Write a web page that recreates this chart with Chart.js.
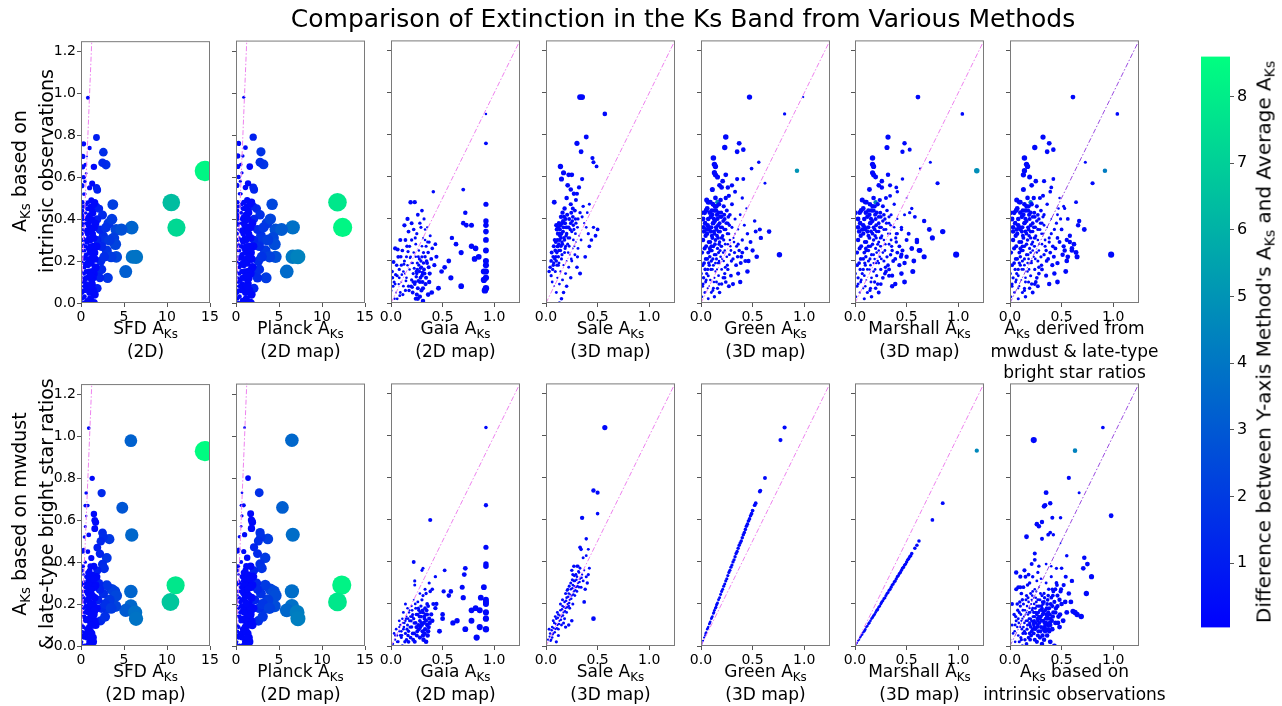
<!DOCTYPE html>
<html>
<head>
<meta charset="utf-8">
<script src="https://cdn.jsdelivr.net/npm/chart.js@4.4.0/dist/chart.umd.min.js"></script>
<style>
  body { margin: 0; background: #fff; font-family: "DejaVu Sans", sans-serif; }
  #fig { position: relative; width: 1282px; height: 706px; overflow: hidden; background: #fff; }
  #fig canvas { position: absolute; }
  .title { position: absolute; white-space: nowrap; font-size: 25px; transform: translate(-50%, -50%); }
  .xlab { position: absolute; white-space: nowrap; text-align: center; font-size: 17px; line-height: 21px; transform: translateX(-50%); }
  .ylab { position: absolute; white-space: nowrap; text-align: center; font-size: 19px; line-height: 25px; transform: translate(-50%, -50%) rotate(-90deg); }
  .bar { font-size: 20px; }
  .s { font-size: 0.7em; position: relative; top: 0.3em; }
</style>
</head>
<body>
<div id="fig"></div>
<script>
// axis ticks
const yTicks = [0, 0.2, 0.4, 0.6, 0.8, 1.0, 1.2];
const wideTicks = [0, 5, 10, 15];
const narrowTicks = [0, 0.5, 1.0];
const barTicks = [1, 2, 3, 4, 5, 6, 7, 8];
const barMin = 0.036, barMax = 8.6;

// points are [x, y] or [x, y, colour value]; colour value defaults to a plain blue
// --- top row: y = A_Ks from intrinsic observations
const sfdVsIntrinsic = [
  [14.4,.63,8.3],[10.5,.48,6.4],[11.1,.36,7.3],[5.9,.36,3.4],[6.0,.22,3.8],[6.4,.22,3.9],[5.2,.15,3.2],[3.7,.47,2.1],
  [4.1,.35,2.4],[4.7,.35,2.7],[3.8,.31,2.1],[4.0,.28,2.3],[4.1,.22,2.4],[3.1,.12,1.8],[2.6,.72,1.5],[2.9,.66,1.6],
  [2.5,.67,1.4],[1.8,.79,1.0],[1.8,.55,1.0],[1.9,.54,1.1],[3.2,.38,1.8],[3.0,.25,1.7],[2.6,.32,1.5],[2.3,.20,1.3],
  [2.1,.45,1.2],[2.5,.42,1.4],[2.8,.30,1.6],[3.3,.30,1.9],[3.5,.22,2.0],[2.7,.22,1.5],[2.2,.35,1.2],[2.4,.27,1.3],
  [2.0,.15,1.1],[1.9,.40,1.0],[1.8,.46,1.0],[1.9,.30,1.1],[2.2,.12,1.2],[1.9,.07,1.0],[2.4,.16,1.3],[3.6,.40,2.0],[2.9,.36,1.6],
  [.8,.98],[.3,.76],[1.0,.74],[.7,.70],[1.5,.65],[.2,.65],[1.3,.57],[.6,.62],[.3,.60],[1.0,.55],[.5,.52],[1.6,.48],
  [1.2,.49],[.8,.48],[.4,.46],[1.4,.43],[1.0,.42],[.6,.40],[.2,.40],[1.7,.38],[1.3,.36],[.9,.35],[.5,.34],[.1,.33],
  [1.5,.31],[1.1,.30],[.7,.29],[.3,.28],[1.8,.27],[1.4,.25],[1.0,.24],[.6,.23],[.2,.22],[1.6,.21],[1.2,.19],[.8,.18],
  [.4,.17],[.1,.15],[1.5,.14],[1.0,.13],[.6,.12],[.3,.10],[1.3,.09],[.9,.07],[.5,.06],[.2,.05],[1.6,.04],[1.1,.02],
  [.7,.01],[.3,.00],[1.5,.00],[.1,.08],[.4,.25],[.9,.45],[1.3,.44],[.7,.38],[1.1,.34],[.5,.27],[1.2,.26],[.8,.21],
  [.3,.19],[1.7,.17],[1.4,.12],[.6,.15],[.2,.12],[1.0,.05],[.4,.03],[.15,.30],[.25,.35],[.55,.43],[.15,.48],[.35,.52],
  [.1,.56],[.45,.58],[.2,.70],[.5,.66],[.05,.20],[.05,.10],[.1,.42],[.35,.14],
  [.12,.44],[.22,.37],[.35,.31],[.48,.22],[.62,.47],[.75,.33],[.88,.26],[.95,.15],[1.05,.39],[1.15,.21],[1.25,.11],
  [1.35,.33],[1.45,.27],[1.55,.36],[.18,.27],[.28,.06],[.42,.38],[.52,.18],[.66,.09],[.78,.41],[.92,.31],[1.02,.19],
  [1.12,.46],[1.22,.36],[1.32,.15],[1.42,.06],[1.58,.24],[.08,.38],[.16,.02],[.26,.46],[.38,.21],[.46,.11],[.58,.30],
  [.68,.19],[.82,.12],[.96,.40],[1.08,.27],[1.18,.08],[1.28,.40],[1.38,.22],[1.48,.47],[.32,.41],[.72,.45],[.86,.37],
  [.12,.25],[.04,.30],[.06,.04],[.44,.08],[.64,.35],[1.16,.13]
];
const planckVsIntrinsic = [
  [11.8,.48,7.8],[12.4,.36,8.3],[6.6,.36,3.8],[6.6,.22,4.1],[7.2,.22,4.4],[5.9,.15,3.6],[4.2,.47,2.4],[4.6,.35,2.7],
  [5.3,.35,3.1],[4.3,.31,2.4],[4.5,.28,2.6],[4.6,.22,2.7],[3.5,.12,2.0],[2.9,.72,1.7],[3.2,.66,1.8],[2.8,.67,1.6],
  [2.0,.79,1.1],[2.0,.55,1.1],[2.1,.54,1.2],[3.6,.38,2.0],[3.4,.25,1.9],[2.9,.32,1.7],[2.6,.20,1.5],[2.4,.45,1.3],
  [2.8,.42,1.6],[3.1,.30,1.8],[3.7,.30,2.1],[3.9,.22,2.2],[3.0,.22,1.7],[2.5,.35,1.4],[2.7,.27,1.5],[2.2,.15,1.2],
  [2.1,.40,1.2],[2.0,.46,1.1],[2.1,.30,1.2],[2.5,.12,1.4],[2.1,.07,1.2],[2.7,.16,1.5],[4.0,.40,2.3],[3.2,.36,1.8],
  [.9,.98],[.3,.76],[1.1,.74],[.8,.70],[1.6,.65],[.2,.65],[1.4,.57],[.7,.62],[.3,.60],[1.1,.55],[.6,.52],[1.8,.48],
  [1.3,.49],[.9,.48],[.4,.46],[1.5,.43],[1.1,.42],[.7,.40],[.2,.40],[1.9,.38],[1.4,.36],[1.0,.35],[.6,.34],[.1,.33],
  [1.7,.31],[1.2,.30],[.8,.29],[.3,.28],[2.0,.27],[1.5,.25],[1.1,.24],[.7,.23],[.2,.22],[1.8,.21],[1.3,.19],[.9,.18],
  [.4,.17],[.1,.15],[1.7,.14],[1.1,.13],[.7,.12],[.3,.10],[1.4,.09],[1.0,.07],[.6,.06],[.2,.05],[1.8,.04],[1.2,.02],
  [.8,.01],[.3,.00],[1.7,.00],[.1,.08],[.4,.25],[1.0,.45],[1.4,.44],[.8,.38],[1.2,.34],[.6,.27],[1.3,.26],[.9,.21],
  [.3,.19],[1.9,.17],[1.5,.12],[.7,.15],[.2,.12],[1.1,.05],[.4,.03],[.15,.30],[.3,.35],[.6,.43],[.15,.48],[.4,.52],
  [.1,.56],[.5,.58],[.2,.70],[.55,.66],[.05,.20],[.05,.10],[.1,.42],[.4,.14],
  [.13,.44],[.24,.37],[.38,.31],[.53,.22],[.68,.47],[.82,.33],[.97,.26],[1.05,.15],[1.15,.39],[1.27,.21],[1.37,.11],
  [1.48,.33],[1.6,.27],[1.7,.36],[.2,.27],[.31,.06],[.46,.38],[.57,.18],[.73,.09],[.86,.41],[1.01,.31],[1.12,.19],
  [1.23,.46],[1.34,.36],[1.45,.15],[1.56,.06],[1.74,.24],[.09,.38],[.18,.02],[.29,.46],[.42,.21],[.51,.11],[.64,.30],
  [.75,.19],[.9,.12],[1.06,.40],[1.19,.27],[1.3,.08],[1.41,.40],[1.52,.22],[1.63,.47],[.35,.41],[.79,.45],[.95,.37],
  [.13,.25],[.04,.30],[.07,.04],[.48,.08],[.7,.35],[1.28,.13]
];
const gaiaVsIntrinsic = [
  [.92,.90],[.92,.76],[.70,.54],[.41,.53],[.92,.47],[.92,.39],[.92,.37],[.92,.34],[.92,.30],[.92,.25],[.92,.20],
  [.92,.18],[.92,.15],[.92,.12],[.92,.07],[.91,.06],[.90,.15],[.90,.11],[.72,.43],[.70,.38],[.73,.37],[.78,.37],
  [.59,.31],[.63,.28],[.68,.24],[.78,.27],[.82,.26],[.85,.22],[.81,.21],[.56,.20],[.52,.17],[.49,.15],[.58,.12],
  [.68,.08],[.46,.07],[.36,.04],[.31,.01],[.28,.03],[.25,.04],[.24,.02],[.19,.48],[.23,.48],[.30,.44],[.13,.37],[.04,.26],
  [.05,.05],[.02,.08],[.08,.12],[.10,.18],[.12,.15],[.15,.22],[.18,.27],[.20,.30],[.22,.35],[.25,.33],[.28,.38],
  [.32,.40],[.35,.36],[.38,.32],[.33,.30],[.30,.27],[.27,.25],[.24,.22],[.21,.19],[.18,.16],[.15,.12],[.12,.08],
  [.09,.05],[.06,.02],[.03,.10],[.01,.15],[.00,.06],[.11,.25],[.14,.30],[.17,.34],[.20,.38],[.26,.42],[.29,.36],
  [.31,.31],[.34,.27],[.36,.24],[.39,.21],[.42,.18],[.44,.22],[.40,.26],[.37,.29],[.35,.19],[.32,.16],[.30,.13],
  [.28,.10],[.26,.07],[.23,.09],[.20,.11],[.25,.14],[.27,.18],[.33,.22],[.29,.20],[.24,.28],[.22,.24],[.19,.22],
  [.16,.18],[.13,.20],[.08,.16],[.06,.13],[.04,.09],[.10,.10],[.14,.06],[.17,.08],[.21,.05],[.34,.12],[.37,.10],
  [.31,.07],[.26,.02],[.43,.28],[.16,.40],[.09,.30],[.07,.22],[.33,.35],[.30,.22],
  [.015,.12],[.035,.02],[.055,.18],[.075,.09],[.095,.22],[.115,.04],[.135,.14],[.155,.27],[.175,.06],[.195,.19],
  [.215,.10],[.235,.31],[.255,.16],[.275,.21],[.295,.06],[.315,.19],[.335,.09],[.355,.29],[.375,.14],[.395,.05],
  [.245,.125],[.265,.105],[.285,.165],[.305,.145],[.225,.165],[.205,.075],[.185,.215],[.165,.245],[.145,.105],
  [.125,.185],[.105,.135],[.085,.035],[.065,.255],[.045,.135],[.025,.195],
  [.255,.19],[.275,.15],[.295,.17],[.245,.15],[.265,.22],[.285,.12],[.305,.10],[.325,.14],[.235,.10],[.215,.14],
  [.195,.08],[.315,.24],[.345,.20],[.365,.17]
];
const saleVsIntrinsic = [
  [.33,.98],[.35,.98],[.57,.90],[.39,.79],[.30,.76],[.34,.72],[.45,.69],[.46,.67],[.49,.65],[.14,.65],[.17,.62],
  [.22,.61],[.25,.61],[.35,.59],[.15,.59],[.24,.54],[.08,.48],[.30,.52],[.29,.49],[.16,.43],[.26,.45],[.36,.46],
  [.42,.47],[.40,.43],[.12,.36],[.10,.37],[.50,.35],[.42,.27],[.38,.22],[.30,.17],[.10,.05],[.13,.00],
  [.05,.13],[.03,.15],[.07,.18],[.10,.20],[.12,.22],[.14,.25],[.16,.28],[.18,.30],[.20,.33],[.22,.36],[.24,.38],
  [.26,.41],[.28,.44],[.19,.40],[.17,.36],[.15,.33],[.13,.30],[.11,.27],[.09,.25],[.07,.22],[.05,.20],[.04,.17],
  [.06,.10],[.08,.08],[.11,.12],[.14,.15],[.17,.18],[.20,.20],[.23,.23],[.26,.26],[.29,.29],[.32,.32],[.34,.30],
  [.31,.26],[.28,.23],[.25,.20],[.22,.17],[.19,.14],[.16,.11],[.13,.09],[.21,.28],[.23,.31],[.25,.34],[.27,.35],
  [.29,.38],[.31,.40],[.33,.43],[.35,.41],[.37,.38],[.39,.36],[.41,.33],[.44,.30],[.46,.36],[.48,.32],[.18,.24],
  [.15,.21],[.12,.18],[.09,.15],[.13,.33],[.11,.30],[.14,.37],[.18,.45],[.20,.50],[.24,.47],[.21,.56],[.27,.52],
  [.32,.55],[.19,.27],[.17,.05],[.20,.08],[.15,.02],[.24,.12],[.33,.14],
  [.065,.16],[.085,.21],[.105,.24],[.125,.28],[.145,.31],[.165,.34],[.185,.38],[.205,.36],[.225,.40],[.245,.43],
  [.265,.37],[.285,.33],[.305,.36],[.115,.33],[.135,.35],[.155,.38],[.175,.41],[.095,.29],[.075,.27],[.055,.24],
  [.125,.19],[.155,.23],[.185,.26],[.215,.24],[.245,.21],[.275,.27],[.305,.22],[.235,.35],[.195,.32],[.145,.27],
  [.085,.30],[.105,.35],[.125,.38],[.135,.32],[.145,.41],[.155,.29],[.165,.39],[.115,.27],[.095,.22],[.075,.19],
  [.175,.31],[.195,.36],[.215,.31],[.225,.27],[.205,.42],[.255,.39],[.265,.30],[.285,.40],[.125,.25],[.105,.18]
];
const greenVsIntrinsic = [
  [.47,.98],[.81,.90],[.99,.98],[.24,.79],[.23,.74],[.37,.76],[.35,.72],[.41,.73],[.12,.69],[.13,.66],[.14,.65],
  [.13,.62],[.14,.61],[.56,.67],[.49,.64],[.93,.63,5.0],[.24,.61],[.35,.59],[.41,.59],[.20,.55],[.26,.55],[.30,.56],
  [.62,.57],[.07,.48],[.00,.43],[.52,.39],[.57,.35],[.53,.34],[.66,.34],[.58,.31],[.42,.37],[.45,.33],[.76,.23],
  [.36,.28],[.40,.24],[.39,.22],[.43,.20],[.27,.08],[.23,.12],[.24,.10],[.16,.48,4.5],
  [.01,.03],[.02,.09],[.00,.14],[.03,.19],[.01,.24],[.02,.30],[.04,.05],[.05,.11],[.04,.16],[.06,.21],[.05,.27],
  [.06,.33],[.04,.38],[.07,.02],[.08,.08],[.07,.13],[.08,.18],[.07,.24],[.09,.29],[.08,.35],[.07,.40],[.10,.05],
  [.09,.11],[.11,.16],[.10,.20],[.09,.25],[.11,.31],[.10,.36],[.11,.42],[.12,.07],[.13,.12],[.12,.18],[.13,.23],
  [.12,.27],[.13,.33],[.12,.38],[.13,.44],[.15,.10],[.14,.15],[.15,.21],[.16,.26],[.14,.30],[.15,.35],[.16,.40],
  [.15,.46],[.17,.13],[.18,.19],[.17,.24],[.18,.29],[.17,.34],[.18,.38],[.17,.43],[.20,.16],[.19,.22],[.20,.27],
  [.21,.32],[.19,.36],[.20,.41],[.22,.46],[.22,.20],[.23,.25],[.22,.30],[.24,.35],[.23,.40],[.25,.44],[.25,.22],
  [.26,.28],[.27,.33],[.26,.38],[.28,.42],[.29,.25],[.28,.30],[.30,.36],[.31,.21],[.32,.29],[.33,.40],[.06,.45],
  [.09,.48],[.14,.50],[.19,.49],[.24,.50],[.11,.54],[.18,.56],[.16,.60],[.21,.58],[.03,.34],[.02,.40],[.05,.44],
  [.10,.27],[.14,.19],[.20,.09],[.16,.07],[.13,.03],[.18,.05],[.23,.14],[.26,.16],[.29,.13],[.34,.18],[.36,.14],
  [.31,.09],[.37,.25],[.40,.30],[.44,.26],[.48,.29],[.50,.25],[.46,.20],[.33,.33],[.36,.35],[.38,.42],[.44,.45],
  [.40,.50],[.30,.47],[.27,.51],[.33,.53],[.45,.15],[.38,.10],[.54,.22],
  [.025,.12],[.035,.26],[.045,.21],[.055,.35],[.065,.07],[.075,.29],[.085,.43],[.095,.16],[.105,.32],[.115,.38],
  [.125,.10],[.135,.28],[.145,.36],[.155,.16],[.165,.31],[.175,.20],[.185,.34],[.195,.27],[.205,.36],[.215,.24],
  [.045,.32],[.065,.37],[.085,.26],[.105,.44],[.125,.40],[.145,.23],[.165,.37],[.185,.25],[.205,.31],[.225,.35],
  [.035,.05],[.055,.14],[.075,.19],[.095,.34],[.115,.21],[.135,.39],[.155,.42],[.175,.28],[.195,.43],[.215,.39],
  [.015,.18],[.025,.36],[.095,.41],[.115,.47],[.135,.46],[.155,.32],[.175,.47],[.195,.31],[.235,.28],[.245,.38],
  [.255,.33],[.275,.37],[.285,.27],[.265,.41],[.065,.16],[.085,.22],[.105,.25],[.125,.34],[.145,.44],[.165,.19],
  [.185,.41],[.205,.21],[.225,.42],[.015,.08],[.045,.10],[.075,.36],[.035,.43],[.055,.49],[.115,.06],[.175,.09],
  [.215,.12],[.255,.18],[.295,.20],[.325,.24],[.345,.27],[.275,.23],[.235,.17],[.315,.31],[.355,.22],[.385,.19]
];
const marshallVsIntrinsic = [
  [.61,.98],[1.04,.90],[.32,.79],[.31,.74],[.48,.76],[.46,.72],[.53,.73],[.17,.69],[.17,.66],[.18,.65],[.17,.62],
  [.18,.61],[.73,.67],[.63,.64],[1.18,.63,4.8],[.32,.61],[.80,.57],[.10,.48],[.00,.43],[.67,.39],[.72,.35],[.85,.34],
  [.75,.31],[.98,.23],[.60,.30],[.50,.22],[.45,.23],[.36,.08],[.33,.13],[.30,.15],[.46,.59],[.40,.55],[.34,.56],
  [.26,.55],[.20,.48,4.3],[.53,.43],[.58,.41],[.63,.25],[.55,.26],[.52,.33],[.45,.36],[.40,.33],
  [.01,.03],[.03,.09],[.00,.14],[.04,.19],[.02,.24],[.03,.30],[.05,.05],[.06,.11],[.05,.16],[.08,.21],[.06,.27],
  [.08,.33],[.05,.38],[.09,.02],[.10,.08],[.09,.13],[.10,.18],[.09,.24],[.11,.29],[.10,.35],[.09,.40],[.12,.05],
  [.11,.11],[.14,.16],[.13,.20],[.11,.25],[.14,.31],[.13,.36],[.14,.42],[.15,.07],[.16,.12],[.15,.18],[.16,.23],
  [.15,.27],[.17,.33],[.15,.38],[.16,.44],[.19,.10],[.18,.15],[.19,.21],[.20,.26],[.18,.30],[.19,.35],[.20,.40],
  [.19,.46],[.21,.13],[.23,.19],[.21,.24],[.23,.29],[.21,.34],[.23,.38],[.21,.43],[.25,.16],[.24,.22],[.25,.27],
  [.26,.32],[.24,.36],[.25,.41],[.27,.46],[.28,.20],[.29,.25],[.28,.30],[.30,.35],[.29,.40],[.31,.44],[.31,.22],
  [.33,.28],[.34,.33],[.33,.38],[.35,.42],[.36,.25],[.35,.30],[.38,.36],[.39,.21],[.40,.29],[.41,.40],[.08,.45],
  [.11,.48],[.18,.50],[.24,.49],[.30,.50],[.14,.54],[.23,.56],[.20,.60],[.26,.58],[.04,.34],[.03,.40],[.06,.44],
  [.13,.27],[.18,.19],[.25,.09],[.20,.07],[.16,.03],[.23,.05],[.29,.14],[.33,.16],[.36,.13],[.43,.18],[.45,.14],
  [.39,.09],[.46,.25],[.50,.30],[.55,.26],[.60,.29],[.62,.25],[.57,.20],[.41,.33],[.45,.35],[.48,.42],[.55,.45],
  [.50,.50],[.38,.47],[.34,.51],[.41,.53],[.56,.15],[.48,.10],[.67,.22],
  [.03,.12],[.045,.26],[.055,.21],[.07,.35],[.08,.07],[.095,.29],[.105,.43],[.12,.16],[.13,.32],[.145,.38],[.155,.10],
  [.17,.28],[.18,.36],[.195,.16],[.205,.31],[.22,.20],[.23,.34],[.245,.27],[.255,.36],[.27,.24],[.055,.32],[.08,.37],
  [.105,.26],[.13,.44],[.155,.40],[.18,.23],[.205,.37],[.23,.25],[.255,.31],[.28,.35],[.045,.05],[.07,.14],[.095,.19],
  [.12,.34],[.145,.21],[.17,.39],[.195,.42],[.22,.28],[.245,.43],[.27,.39],[.02,.18],[.03,.36],[.12,.41],[.145,.47],
  [.17,.46],[.195,.32],[.22,.47],[.245,.31],[.295,.28],[.305,.38],[.32,.33],[.345,.37],[.355,.27],[.33,.41],[.08,.16],
  [.105,.22],[.13,.25],[.155,.34],[.18,.44],[.205,.19],[.23,.41],[.255,.21],[.28,.42],[.02,.08],[.055,.10],[.095,.36],
  [.045,.43],[.07,.49],[.145,.06],[.22,.09],[.27,.12],[.32,.18],[.37,.20],[.41,.24],[.43,.27],[.345,.23],[.295,.17],
  [.395,.31],[.445,.22],[.48,.19]
];
const mwdustVsIntrinsic = [
  [.61,.98],[1.04,.90],[.32,.79],[.24,.74],[.38,.76],[.42,.73],[.36,.72],[.14,.69],[.16,.66],[.17,.65],[.14,.63],
  [.13,.61],[.73,.67],[.92,.63,4.2],[.80,.57],[.09,.48],[.00,.43],[.67,.39],[.66,.37],[.72,.35],[.58,.32],[.62,.28],
  [.51,.23],[.98,.23],[.46,.31],[.50,.35],[.56,.40],[.45,.38],[.49,.40],[.27,.08],[.25,.10],[.20,.48,4.0],[.47,.45],
  [.52,.46],[.64,.48],[.40,.55],[.42,.59],[.33,.58],[.55,.30],[.60,.26],[.52,.27],[.56,.22],[.64,.24],
  [.01,.03],[.02,.09],[.00,.14],[.04,.19],[.01,.24],[.03,.30],[.05,.05],[.06,.11],[.05,.16],[.07,.21],[.06,.27],
  [.07,.33],[.05,.38],[.08,.02],[.09,.08],[.08,.13],[.10,.18],[.09,.24],[.11,.29],[.10,.35],[.08,.40],[.12,.05],
  [.11,.11],[.13,.16],[.12,.20],[.11,.25],[.13,.31],[.12,.36],[.13,.42],[.14,.07],[.15,.12],[.14,.18],[.16,.23],
  [.14,.27],[.16,.33],[.14,.38],[.15,.44],[.18,.10],[.17,.15],[.18,.21],[.19,.26],[.17,.30],[.18,.35],[.19,.40],
  [.18,.46],[.20,.13],[.21,.19],[.20,.24],[.22,.29],[.20,.34],[.22,.38],[.20,.43],[.24,.16],[.23,.22],[.24,.27],
  [.25,.32],[.23,.36],[.24,.41],[.26,.46],[.27,.20],[.28,.25],[.27,.30],[.29,.35],[.28,.40],[.30,.44],[.30,.22],
  [.31,.28],[.32,.33],[.31,.38],[.33,.42],[.35,.25],[.34,.30],[.36,.36],[.37,.21],[.38,.29],[.40,.40],[.07,.45],
  [.10,.48],[.17,.50],[.23,.50],[.29,.50],[.13,.54],[.21,.56],[.19,.60],[.25,.58],[.03,.34],[.02,.40],[.06,.44],
  [.12,.27],[.17,.19],[.24,.09],[.19,.07],[.15,.03],[.22,.05],[.28,.14],[.31,.16],[.35,.13],[.41,.18],[.43,.14],
  [.38,.09],[.44,.26],[.48,.29],[.53,.25],[.58,.29],[.60,.25],[.55,.20],[.40,.33],[.43,.35],[.46,.42],[.53,.45],
  [.48,.50],[.36,.47],[.32,.51],[.39,.53],[.54,.15],[.46,.10],[.65,.22],
  [.03,.12],[.04,.26],[.055,.21],[.065,.35],[.08,.07],[.09,.29],[.10,.43],[.115,.16],[.125,.32],[.14,.38],[.15,.10],
  [.16,.28],[.175,.36],[.185,.16],[.2,.31],[.21,.20],[.22,.34],[.235,.27],[.245,.36],[.26,.24],[.055,.32],[.08,.37],
  [.10,.26],[.125,.44],[.15,.40],[.175,.23],[.2,.37],[.22,.25],[.245,.31],[.27,.35],[.04,.05],[.065,.14],[.09,.19],
  [.115,.34],[.14,.21],[.16,.39],[.185,.42],[.21,.28],[.235,.43],[.26,.39],[.02,.18],[.03,.36],[.115,.41],[.14,.47],
  [.16,.46],[.185,.32],[.21,.47],[.235,.31],[.28,.28],[.295,.38],[.305,.33],[.33,.37],[.34,.27],[.32,.41],[.08,.16],
  [.10,.22],[.125,.25],[.15,.34],[.175,.44],[.2,.19],[.22,.41],[.245,.21],[.27,.42],[.02,.08],[.055,.10],[.09,.36],
  [.04,.43],[.065,.49],[.14,.06],[.21,.09],[.26,.12],[.305,.18],[.355,.20],[.39,.24],[.415,.27],[.33,.23],[.28,.17],
  [.38,.31],[.425,.22],[.46,.19]
];

// --- bottom row: y = A_Ks from mwdust & late-type bright star ratios
const sfdVsMwdust = [
  [14.4,.93,8.5],[5.8,.98,3.3],[4.8,.66,2.9],[5.9,.53,3.5],[11.0,.29,7.8],[10.4,.21,6.7],[5.8,.26,3.4],[5.8,.19,3.5],
  [5.2,.17,3.1],[6.3,.16,3.8],[6.4,.13,3.9],[4.0,.19,2.3],[3.6,.27,2.1],[3.9,.26,2.2],[4.1,.24,2.4],[3.0,.29,1.8],
  [3.3,.22,1.9],[3.0,.18,1.8],[3.2,.21,1.9],[3.3,.51,1.9],[3.0,.42,1.8],[2.4,.73,1.4],[2.5,.54,1.4],[2.6,.52,1.5],
  [2.3,.50,1.3],[1.9,.47,1.0],[2.2,.44,1.2],[2.5,.39,1.4],[2.7,.37,1.5],[2.6,.25,1.5],[2.4,.18,1.4],[2.8,.20,1.6],
  [2.1,.30,1.2],[2.0,.22,1.1],[2.3,.12,1.3],[1.9,.36,1.0],[2.2,.27,1.2],[3.5,.18,2.0],[2.8,.14,1.6],
  [1.3,.80],[1.5,.63],[1.7,.59],[1.6,.56],[1.6,.60],[.9,1.04],[.6,.73],[.8,.67],[.5,.67],[.6,.62],[.5,.57],[1.0,.02],
  [.3,.46],[.2,.38],[.8,.45],[1.2,.42],[.5,.40],[1.5,.38],[1.0,.36],[.3,.34],[.7,.33],[1.3,.31],[1.7,.29],[.1,.30],
  [.5,.28],[.9,.27],[1.2,.25],[1.6,.23],[.2,.24],[.6,.22],[1.0,.21],[1.4,.20],[1.8,.18],[.3,.18],[.7,.17],[1.1,.16],
  [1.5,.15],[.1,.14],[.5,.13],[.9,.12],[1.3,.11],[1.7,.10],[.3,.09],[.7,.08],[1.1,.07],[.2,.05],[.6,.04],[1.4,.04],
  [.1,.02],[.4,.00],[.8,.00],[1.6,.12],[1.2,.18],[.4,.26],[.8,.31],[1.1,.38],[.4,.52],[.2,.45],[.9,.53],[1.8,.33],
  [.15,.10],[.05,.06],[.25,.14],[.05,.22],
  [.12,.36],[.22,.29],[.35,.23],[.48,.16],[.62,.33],[.75,.25],[.88,.19],[.95,.09],[1.05,.29],[1.15,.14],[1.25,.06],
  [1.35,.24],[1.45,.19],[1.55,.28],[.18,.21],[.28,.04],[.42,.30],[.52,.12],[.66,.06],[.78,.35],[.92,.23],[1.02,.13],
  [1.12,.33],[1.22,.27],[1.32,.10],[1.42,.02],[1.58,.17],[.08,.26],[.16,.07],[.26,.38],[.38,.14],[.46,.21],[.58,.19],
  [.68,.13],[.82,.07],[.96,.32],[1.08,.20],[1.18,.04],[1.28,.34],[1.38,.15],[1.48,.32],[.32,.31],[.72,.29],[.86,.16],
  [.12,.19],[.04,.16],[.06,.01],[.44,.06],[.64,.26],[1.16,.10]
];
const planckVsMwdust = [
  [6.5,.98,3.5],[5.4,.66,3.2],[6.6,.53,3.7],[12.3,.29,8.2],[11.8,.21,7.8],[6.5,.26,3.7],[6.5,.19,3.8],[5.9,.17,3.5],
  [7.1,.16,4.2],[7.2,.13,4.3],[4.5,.19,2.6],[4.0,.27,2.3],[4.4,.26,2.5],[4.6,.24,2.6],[3.4,.29,2.0],[3.7,.22,2.1],
  [3.4,.18,2.0],[3.6,.21,2.1],[3.7,.51,2.1],[3.4,.42,2.0],[2.7,.73,1.6],[2.8,.54,1.6],[2.9,.52,1.7],[2.6,.50,1.5],
  [2.1,.47,1.2],[2.5,.44,1.4],[2.8,.39,1.6],[3.0,.37,1.7],[2.9,.25,1.7],[2.7,.18,1.6],[3.1,.20,1.8],[2.4,.30,1.4],
  [2.2,.22,1.2],[2.6,.12,1.5],[2.1,.36,1.2],[2.5,.27,1.4],[3.9,.18,2.2],[3.1,.14,1.8],
  [1.4,.80],[1.7,.63],[1.9,.59],[1.8,.56],[1.8,.60],[1.0,1.04],[.7,.73],[.9,.67],[.6,.67],[.7,.62],[.6,.57],[1.1,.02],
  [.3,.46],[.2,.38],[.9,.45],[1.3,.42],[.6,.40],[1.7,.38],[1.1,.36],[.3,.34],[.8,.33],[1.4,.31],[1.9,.29],[.1,.30],
  [.6,.28],[1.0,.27],[1.3,.25],[1.8,.23],[.2,.24],[.7,.22],[1.1,.21],[1.5,.20],[2.0,.18],[.3,.18],[.8,.17],[1.2,.16],
  [1.7,.15],[.1,.14],[.6,.13],[1.0,.12],[1.4,.11],[1.9,.10],[.3,.09],[.8,.08],[1.2,.07],[.2,.05],[.7,.04],[1.5,.04],
  [.1,.02],[.4,.00],[.9,.00],[1.8,.12],[1.3,.18],[.4,.26],[.9,.31],[1.2,.38],[.4,.52],[.2,.45],[1.0,.53],[2.0,.33],
  [.15,.10],[.05,.06],[.3,.14],[.05,.22],
  [.13,.36],[.24,.29],[.38,.23],[.53,.16],[.68,.33],[.82,.25],[.97,.19],[1.05,.09],[1.15,.29],[1.27,.14],[1.37,.06],
  [1.48,.24],[1.6,.19],[1.7,.28],[.2,.21],[.31,.04],[.46,.30],[.57,.12],[.73,.06],[.86,.35],[1.01,.23],[1.12,.13],
  [1.23,.33],[1.34,.27],[1.45,.10],[1.56,.02],[1.74,.17],[.09,.26],[.18,.07],[.29,.38],[.42,.14],[.51,.21],[.64,.19],
  [.75,.13],[.9,.07],[1.06,.32],[1.19,.20],[1.3,.04],[1.41,.34],[1.52,.15],[1.63,.32],[.35,.31],[.79,.29],[.95,.16],
  [.13,.19],[.04,.16],[.07,.01],[.48,.06],[.7,.26],[1.28,.10]
];
const gaiaVsMwdust = [
  [.92,1.04],[.92,.67],[.38,.60],[.92,.47],[.92,.39],[.92,.38],[.22,.40],[.31,.37],[.30,.36],[.52,.36],[.72,.37],
  [.71,.34],[.43,.33],[.69,.28],[.90,.28],[.92,.22],[.92,.21],[.92,.20],[.92,.16],[.92,.13],[.92,.08],[.87,.23],
  [.82,.18],[.86,.17],[.78,.17],[.70,.23],[.64,.12],[.60,.11],[.78,.12],[.72,.08],[.86,.09],[.83,.04],[.50,.13],
  [.50,.15],[.47,.07],[.56,.24],[.58,.26],[.51,.26],[.34,.02],[.44,.20],[.43,.18],[.41,.20],[.36,.19],[.23,.31],
  [.23,.29],[.31,.24],[.33,.27],[.30,.22],[.35,.20],[.38,.26],[.40,.27],[.37,.30],[.34,.25],
  [.02,.01],[.04,.03],[.06,.05],[.08,.07],[.03,.06],[.07,.02],[.10,.04],[.12,.08],[.14,.06],[.16,.10],[.18,.12],
  [.20,.09],[.22,.13],[.24,.11],[.26,.15],[.28,.12],[.30,.10],[.32,.14],[.34,.12],[.27,.08],[.25,.05],[.21,.06],
  [.19,.04],[.17,.07],[.15,.03],[.13,.11],[.11,.13],[.09,.10],[.12,.16],[.15,.14],[.18,.17],[.21,.15],[.24,.18],
  [.27,.17],[.29,.19],[.31,.16],[.33,.18],[.28,.04],[.31,.05],[.33,.08],[.35,.10],[.37,.13],[.39,.15],[.36,.07],
  [.23,.02],[.26,.21],[.20,.19],[.16,.18],[.14,.12],[.10,.07],[.29,.14],[.25,.09],[.32,.11],[.19,.14],[.17,.02],
  [.11,.00],[.05,.08],[.08,.12],[.14,.20],[.22,.22],[.28,.25],[.35,.15],[.40,.12],
  [.105,.05],[.125,.09],[.145,.13],[.165,.05],[.185,.09],[.205,.14],[.225,.06],[.245,.15],[.265,.10],[.285,.16],
  [.305,.07],[.325,.13],[.345,.17],[.365,.09],[.115,.11],[.135,.02],[.155,.08],[.175,.16],[.195,.12],[.215,.03],
  [.235,.20],[.255,.07],[.275,.14],[.295,.11],[.315,.03],[.335,.15],[.355,.05],[.375,.11],[.265,.18],[.225,.11],
  [.285,.09],[.245,.09],[.305,.17],[.325,.06],[.205,.17],[.165,.13],[.06,.02],[.09,.05],[.04,.05],[.08,.09]
];
const saleVsMwdust = [
  [.57,1.04],[.46,.74],[.50,.73],[.50,.63],[.35,.61],[.39,.51],[.33,.47],[.34,.46],[.41,.46],[.46,.13],[.39,.43],
  [.36,.42],[.30,.38],[.31,.38],[.27,.38],[.25,.36],[.33,.37],[.26,.34],[.42,.37],[.41,.34],[.39,.33],[.40,.30],
  [.37,.21],[.22,.10],[.25,.12],[.12,.05],[.10,.02],
  [.02,.03],[.04,.06],[.05,.03],[.06,.09],[.07,.06],[.08,.11],[.09,.08],[.10,.13],[.11,.10],[.12,.15],[.13,.12],
  [.14,.17],[.15,.14],[.16,.19],[.17,.16],[.18,.21],[.19,.18],[.20,.23],[.21,.20],[.22,.25],[.23,.22],[.24,.27],
  [.25,.24],[.26,.29],[.27,.26],[.28,.31],[.29,.28],[.30,.33],[.31,.30],[.32,.35],[.33,.32],[.34,.28],[.35,.34],
  [.36,.31],[.37,.36],[.38,.27],[.15,.10],[.18,.13],[.20,.16],[.23,.18],[.16,.22],[.19,.25],[.21,.27],[.24,.30],
  [.14,.20],[.11,.16],[.09,.14],[.07,.12],[.12,.08],[.17,.11],[.26,.20],[.28,.24],[.30,.26],[.32,.28],[.29,.34],
  [.27,.31],[.22,.19],[.19,.09],[.06,.04],[.03,.08],
  [.035,.045],[.055,.075],[.075,.085],[.095,.105],[.115,.135],[.135,.145],[.155,.175],[.175,.185],[.195,.215],
  [.215,.235],[.235,.245],[.255,.275],[.275,.285],[.295,.315],[.125,.105],[.145,.125],[.165,.145],[.185,.165],
  [.205,.185],[.225,.205],[.245,.225],[.265,.245],[.285,.265],[.305,.285],[.325,.305],[.345,.325],[.105,.085],
  [.085,.065],[.065,.055],[.045,.025],[.205,.265],[.225,.285],[.255,.315],[.275,.335],[.315,.355]
];
const greenVsMwdust = [
  [.81,1.04],[.77,.98],[.62,.80],[.575,.74],[.57,.735],[.53,.68],[.52,.67],[.50,.645],[.49,.63],[.48,.62],[.47,.605],
  [.46,.595],[.45,.58],[.44,.57],[.43,.555],[.42,.54],[.41,.53],[.40,.515],[.39,.50],[.38,.49],[.37,.48],[.36,.465],
  [.35,.45],[.34,.44],[.33,.425],[.32,.41],[.31,.40],[.30,.385],[.29,.375],[.28,.36],[.27,.35],[.26,.335],[.25,.32],
  [.24,.31],[.23,.295],[.22,.285],[.21,.27],[.20,.26],[.19,.245],[.18,.23],[.17,.22],[.16,.205],[.15,.195],[.14,.18],
  [.13,.17],[.12,.155],[.11,.14],[.10,.13],[.09,.115],[.08,.105],[.07,.09],[.06,.08],[.05,.065],[.04,.05],[.03,.04],
  [.02,.025],[.01,.015],[.005,.005],[.155,.20],[.145,.185],[.125,.16],[.105,.135],[.085,.11],[.065,.085],[.045,.06]
];
const marshallVsMwdust = [
  [1.18,.93,4.6],[.85,.68],[.75,.60],[.62,.50],[.60,.48],[.58,.465],[.55,.44],[.54,.43],[.53,.425],[.52,.415],
  [.51,.41],[.50,.40],[.49,.39],[.48,.385],[.47,.375],[.46,.37],[.45,.36],[.44,.35],[.43,.345],[.42,.335],[.41,.33],
  [.40,.32],[.39,.31],[.38,.305],[.37,.295],[.36,.29],[.35,.28],[.34,.27],[.33,.265],[.32,.255],[.31,.25],[.30,.24],
  [.29,.23],[.28,.225],[.27,.215],[.26,.21],[.25,.20],[.24,.19],[.23,.185],[.22,.175],[.21,.17],[.20,.16],[.19,.15],
  [.18,.145],[.17,.135],[.16,.13],[.15,.12],[.14,.11],[.13,.105],[.12,.095],[.11,.09],[.10,.08],[.09,.07],[.08,.065],
  [.07,.055],[.06,.05],[.05,.04],[.04,.03],[.03,.025],[.02,.015],[.01,.01],[.005,.005],[.255,.205],[.215,.17],
  [.175,.14],[.135,.11],[.095,.075],[.055,.045]
];
const intrinsicVsMwdust = [
  [.90,1.04],[.23,.98],[.63,.93,4.4],[.57,.80],[.67,.73],[.35,.73],[.34,.67],[.33,.665],[.39,.68],[.98,.62],[.41,.61],
  [.49,.61],[.31,.59],[.26,.58],[.28,.57],[.16,.52],[.31,.51],[.39,.54],[.42,.53],[.37,.53],[.49,.49],[.24,.44],
  [.24,.41],[.21,.39],[.28,.38],[.55,.43],[.35,.39],[.40,.38],[.45,.37],[.50,.37],[.72,.42],[.71,.37],[.75,.39],
  [.79,.33],[.74,.25],[.69,.14],[.65,.15],[.61,.165],[.63,.16],[.59,.21],[.55,.16],[.48,.09],[.43,.00],[.48,.22],
  [.46,.24],[.49,.26],[.44,.27],[.42,.26],[.08,.28],[.06,.27],[.10,.28],[.02,.10],[.00,.03],
  [.03,.06],[.05,.02],[.06,.12],[.08,.05],[.09,.16],[.10,.09],[.11,.03],[.12,.13],[.13,.20],[.14,.07],[.15,.15],
  [.16,.24],[.17,.10],[.18,.04],[.19,.18],[.20,.13],[.21,.22],[.22,.08],[.23,.16],[.24,.27],[.25,.11],[.26,.19],
  [.27,.05],[.28,.14],[.29,.22],[.30,.09],[.31,.17],[.32,.12],[.33,.25],[.34,.07],[.35,.15],[.36,.20],[.37,.10],
  [.38,.18],[.39,.13],[.40,.23],[.41,.08],[.42,.16],[.44,.11],[.46,.19],[.47,.14],[.50,.20],[.52,.29],[.54,.33],
  [.57,.25],[.60,.31],[.45,.30],[.40,.33],[.35,.30],[.30,.32],[.27,.35],[.19,.30],[.15,.33],[.11,.25],[.07,.20],
  [.04,.15],[.02,.20],[.13,.28],[.17,.29],[.21,.12],[.23,.06],[.26,.02],[.29,.04],[.31,.01],[.33,.03],[.36,.05],
  [.16,.01],[.12,.00],[.09,.02],[.18,.21],[.22,.26],[.25,.23],[.28,.28],[.32,.20],[.34,.17],[.37,.24],[.43,.21],
  [.41,.27],[.38,.07],[.30,.14],[.27,.10],[.24,.14],[.20,.09],[.14,.11],[.10,.19],[.07,.09],[.05,.10],[.19,.06],
  [.24,.03],[.35,.11],[.39,.02],[.31,.24],[.22,.18],[.16,.16],[.29,.17],[.33,.21],[.26,.15],[.20,.25],[.12,.22],
  [.08,.13],[.36,.14],[.44,.16],
  [.085,.11],[.105,.15],[.125,.06],[.145,.17],[.165,.08],[.185,.13],[.205,.20],[.225,.11],[.245,.18],[.265,.09],
  [.285,.19],[.305,.12],[.325,.16],[.345,.10],[.365,.22],[.385,.15],[.405,.12],[.095,.21],[.115,.08],[.135,.14],
  [.155,.22],[.175,.15],[.195,.10],[.215,.17],[.235,.12],[.255,.21],[.275,.16],[.295,.07],[.315,.15],[.335,.11],
  [.355,.18],[.375,.08],[.395,.20],[.415,.14],[.105,.04],[.145,.03],[.185,.16],[.225,.14],[.265,.13],[.305,.19],
  [.345,.13],[.385,.11],[.165,.19],[.205,.05],[.245,.08],[.285,.11],[.325,.08],[.365,.13],[.125,.17],[.175,.23],
  [.215,.24],[.255,.26],[.295,.25],[.335,.23],[.375,.27],[.415,.24],[.195,.16],[.235,.20],[.275,.19],[.315,.21],
  [.155,.12],[.195,.03],[.235,.09],[.275,.07],[.315,.05],[.055,.14],[.075,.17],[.045,.07],[.445,.18],[.465,.11],
  [.485,.15],[.515,.12],[.535,.21],[.495,.27],[.455,.29],[.26,.31],[.22,.33],[.18,.34],[.14,.36],[.10,.33],[.06,.35],
  [.13,.09],[.17,.12],[.21,.07],[.25,.16],[.29,.13],[.33,.09],[.37,.16],[.41,.19],[.23,.23],[.27,.22],[.19,.11],
  [.15,.06],[.31,.18],[.35,.08],[.39,.10],[.11,.12],[.27,.12],[.23,.10]
];

// axis titles, A_Ks is written with a subscript
const topLabels = [
  ['SFD A_Ks', '(2D)'], ['Planck A_Ks', '(2D map)'], ['Gaia A_Ks', '(2D map)'], ['Sale A_Ks', '(3D map)'],
  ['Green A_Ks', '(3D map)'], ['Marshall A_Ks', '(3D map)'], ['A_Ks derived from', 'mwdust & late-type', 'bright star ratios']
];
const bottomLabels = [
  ['SFD A_Ks', '(2D map)'], ['Planck A_Ks', '(2D map)'], ['Gaia A_Ks', '(2D map)'], ['Sale A_Ks', '(3D map)'],
  ['Green A_Ks', '(3D map)'], ['Marshall A_Ks', '(3D map)'], ['A_Ks based on', 'intrinsic observations']
];
const rowLabels = [
  ['A_Ks based on', 'intrinsic observations'],
  ['A_Ks based on mwdust', '& late-type bright star ratios']
];
const titleText = 'Comparison of Extinction in the Ks Band from Various Methods';
const barLabel = "Difference between Y-axis Method's A_Ks and Average A_Ks";

const topPanels = [sfdVsIntrinsic, planckVsIntrinsic, gaiaVsIntrinsic, saleVsIntrinsic, greenVsIntrinsic, marshallVsIntrinsic, mwdustVsIntrinsic];
const bottomPanels = [sfdVsMwdust, planckVsMwdust, gaiaVsMwdust, saleVsMwdust, greenVsMwdust, marshallVsMwdust, intrinsicVsMwdust];

// layout
const colLeft = [81, 236, 391, 546, 701, 855, 1010];
const rowTop = [39, 382];
const plotW = 129, plotH = 264;
const padL = 40, padT = 8, padR = 14, padB = 26;
const font = 'DejaVu Sans';
const fig = document.getElementById('fig');

function sub(s) {
  return s.replace(/A_Ks/g, 'A<span class="s">Ks</span>');
}

// matplotlib "winter": blue -> spring green
function winter(c) {
  const v = Math.min(1, Math.max(0, (c - barMin) / (barMax - barMin)));
  return `rgb(0,${Math.round(255 * v)},${Math.round(255 * (1 - 0.5 * v))})`;
}

// marker size grows with the distance from the one-to-one line
function markerRadius(p) {
  return 0.9 + 2.5 * Math.sqrt(Math.abs(p.x - p.y));
}

const frame = {
  id: 'frame',
  afterDraw(chart) {
    const a = chart.chartArea, g = chart.ctx;
    g.save();
    g.strokeStyle = '#7a7a7a';
    g.lineWidth = 1;
    g.strokeRect(a.left + 0.5, a.top + 0.5, a.right - a.left - 1, a.bottom - a.top - 1);
    g.restore();
  }
};

function addCanvas(left, top, w, h) {
  const cv = document.createElement('canvas');
  cv.width = w; cv.height = h;
  cv.style.left = left + 'px';
  cv.style.top = top + 'px';
  fig.appendChild(cv);
  return cv;
}

function panel(row, col, pts) {
  const wide = col < 2;
  const xmax = wide ? 15 : 1.25;
  const cv = addCanvas(colLeft[col] - padL, rowTop[row] - padT, padL + plotW + padR, padT + plotH + padB);
  const tickFont = { family: font, size: 14 };
  new Chart(cv, {
    type: 'scatter',
    data: {
      datasets: [
        {
          data: [{ x: 0, y: 0 }, { x: xmax, y: xmax }],
          showLine: true,
          borderColor: col === 6 ? '#9b4be0' : '#ee82ee',
          borderWidth: 1,
          borderDash: [5, 2, 1.5, 2],
          pointRadius: 0
        },
        {
          data: pts.map(p => ({ x: p[0], y: p[1], c: p[2] ?? 0.3 })),
          pointRadius: ctx => ctx.raw ? markerRadius(ctx.raw) : 2,
          pointBackgroundColor: ctx => ctx.raw ? winter(ctx.raw.c) : '#0000ff',
          pointBorderWidth: 0,
          pointHoverRadius: 0
        }
      ]
    },
    options: {
      responsive: false,
      animation: false,
      events: [],
      devicePixelRatio: 1,
      layout: { padding: { left: 0, top: padT, right: padR, bottom: 0 } },
      plugins: { legend: { display: false }, tooltip: { enabled: false } },
      scales: {
        x: {
          type: 'linear', min: 0, max: xmax,
          afterBuildTicks: s => { s.ticks = (wide ? wideTicks : narrowTicks).map(v => ({ value: v })); },
          afterFit: s => { s.height = padB; },
          border: { display: false },
          grid: { drawOnChartArea: false, tickLength: 4, color: '#555' },
          ticks: { font: tickFont, color: '#000', padding: 2, maxRotation: 0, autoSkip: false,
                   callback: v => wide ? String(v) : v.toFixed(1) }
        },
        y: {
          type: 'linear', min: 0, max: 1.25,
          afterBuildTicks: s => { s.ticks = yTicks.map(v => ({ value: v })); },
          afterFit: s => { s.width = padL; },
          border: { display: false },
          grid: { drawOnChartArea: false, tickLength: 4, color: '#555' },
          ticks: { font: tickFont, color: '#000', padding: 1, autoSkip: false,
                   callback: v => col === 0 ? v.toFixed(1) : '' }
        }
      }
    },
    plugins: [frame]
  });
}

topPanels.forEach((pts, c) => panel(0, c, pts));
bottomPanels.forEach((pts, c) => panel(1, c, pts));

// colour bar
const barGradient = {
  id: 'barGradient',
  beforeDraw(chart) {
    const a = chart.chartArea, g = chart.ctx;
    const grad = g.createLinearGradient(0, a.bottom, 0, a.top);
    grad.addColorStop(0, winter(barMin));
    grad.addColorStop(1, winter(barMax));
    g.save();
    g.fillStyle = grad;
    g.fillRect(a.left, a.top, a.right - a.left, a.bottom - a.top);
    g.restore();
  }
};
const barCanvas = addCanvas(1199, 44, 2 + 29 + 32, 10 + 576 + 10);
new Chart(barCanvas, {
  type: 'scatter',
  data: { datasets: [] },
  options: {
    responsive: false,
    animation: false,
    events: [],
    devicePixelRatio: 1,
    layout: { padding: { left: 2, top: 10, right: 0, bottom: 10 } },
    plugins: { legend: { display: false }, tooltip: { enabled: false } },
    scales: {
      x: { display: false, min: 0, max: 1 },
      y: {
        type: 'linear', position: 'right', min: barMin, max: barMax,
        afterBuildTicks: s => { s.ticks = barTicks.map(v => ({ value: v })); },
        afterFit: s => { s.width = 32; },
        border: { display: false },
        grid: { drawOnChartArea: false, tickLength: 4, color: '#555' },
        ticks: { font: { family: font, size: 16 }, color: '#000', padding: 3, autoSkip: false }
      }
    }
  },
  plugins: [barGradient]
});

// text
function addDiv(cls, html, left, top) {
  const d = document.createElement('div');
  d.className = cls;
  d.innerHTML = html;
  d.style.left = left + 'px';
  d.style.top = top + 'px';
  fig.appendChild(d);
}
addDiv('title', titleText, 683, 18);
[topLabels, bottomLabels].forEach((labels, r) => {
  labels.forEach((lines, c) => {
    addDiv('xlab', lines.map(sub).join('<br>'), colLeft[c] + plotW / 2, rowTop[r] + plotH + 15);
  });
});
rowLabels.forEach((lines, r) => addDiv('ylab', lines.map(sub).join('<br>'), 33, rowTop[r] + plotH / 2));
addDiv('ylab bar', sub(barLabel), 1265, 342);
</script>
</body>
</html>
